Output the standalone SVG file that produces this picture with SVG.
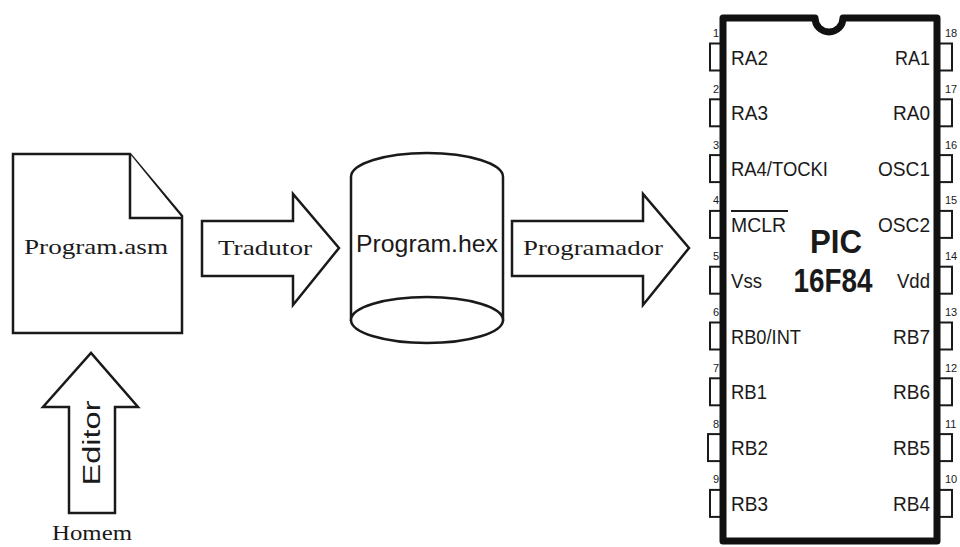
<svg xmlns="http://www.w3.org/2000/svg" width="960" height="547" viewBox="0 0 960 547">
<style>
.ln{fill:#fff;stroke:#1a1a1a;stroke-width:2.5;stroke-linejoin:miter}
.ser{font-family:"Liberation Serif","DejaVu Serif",serif;fill:#1a1a1a}
.sans{font-family:"Liberation Sans",Arial,sans-serif;fill:#1a1a1a}
.lbl{font-family:"Liberation Sans",Arial,sans-serif;font-size:21px;fill:#1a1a1a}
.num{font-family:"Liberation Sans",Arial,sans-serif;font-size:11px;fill:#1a1a1a}
.pin{fill:#fff;stroke:#1a1a1a;stroke-width:2}
</style>
<rect width="960" height="547" fill="#fff"/>
<g id="program-asm">
<path class="ln" d="M13,154 L130,154 L182,216 L182,333 L13,333 Z"/>
<path class="ln" fill="none" d="M130,154 L130,218 L182,218"/>
<text class="ser" x="24" y="254" font-size="22" textLength="144" lengthAdjust="spacingAndGlyphs">Program.asm</text>
</g>
<g id="program-hex">
<path class="ln" d="M351,177 A76,24 0 0 1 503,177 L503,320 L351,320 Z"/>
<ellipse class="ln" cx="427" cy="320" rx="76" ry="23"/>
<text class="sans" x="356" y="252" font-size="24" textLength="142" lengthAdjust="spacingAndGlyphs">Program.hex</text>
</g>
<g id="homem">
<text class="ser" x="52" y="540" font-size="20" textLength="80" lengthAdjust="spacingAndGlyphs">Homem</text>
</g>
<g id="connectors">
<g id="editor">
<path class="ln" d="M69,513 L69,407 L43,407 L91,353 L138,407 L115,407 L115,513 Z"/>
<text class="sans" transform="translate(100,443) rotate(-90)" text-anchor="middle" x="0" y="0" font-size="23" textLength="85" lengthAdjust="spacingAndGlyphs">Editor</text>
</g>
<g id="tradutor">
<path class="ln" d="M202,221 L293,221 L293,194 L339,248 L293,305 L293,276 L202,276 Z"/>
<text class="ser" x="218" y="255" font-size="22" textLength="94" lengthAdjust="spacingAndGlyphs">Tradutor</text>
</g>
<g id="programador">
<path class="ln" d="M512,221 L643,221 L643,194 L689,248 L643,305 L643,276 L512,276 Z"/>
<text class="ser" x="523" y="255" font-size="22" textLength="140" lengthAdjust="spacingAndGlyphs">Programador</text>
</g>
</g>
<g id="pic16f84">
<g id="pins-left">
<rect class="pin" x="710" y="43.5" width="13" height="27"/>
<rect class="pin" x="710" y="99.3" width="13" height="27"/>
<rect class="pin" x="710" y="155.1" width="13" height="27"/>
<rect class="pin" x="710" y="210.9" width="13" height="27"/>
<rect class="pin" x="710" y="266.7" width="13" height="27"/>
<rect class="pin" x="710" y="322.5" width="13" height="27"/>
<rect class="pin" x="710" y="378.3" width="13" height="27"/>
<rect class="pin" x="708" y="434.1" width="15" height="27"/>
<rect class="pin" x="710" y="489.9" width="13" height="27"/>
</g>
<g id="pins-right">
<rect class="pin" x="937" y="43.5" width="15" height="27"/>
<rect class="pin" x="937" y="99.3" width="15" height="27"/>
<rect class="pin" x="937" y="155.1" width="15" height="27"/>
<rect class="pin" x="937" y="210.9" width="15" height="27"/>
<rect class="pin" x="937" y="266.7" width="15" height="27"/>
<rect class="pin" x="937" y="322.5" width="15" height="27"/>
<rect class="pin" x="937" y="378.3" width="15" height="27"/>
<rect class="pin" x="937" y="434.1" width="15" height="27"/>
<rect class="pin" x="937" y="489.9" width="15" height="27"/>
</g>
<path d="M723,18 L815,18 A14,14 0 0 0 843,18 L937,18 L937,541 L723,541 Z" fill="#fff" stroke="#111" stroke-width="7" stroke-linejoin="round"/>
<g id="pin-numbers" class="num">
<text x="719" y="37" text-anchor="end">1</text>
<text x="719" y="92.8" text-anchor="end">2</text>
<text x="719" y="148.6" text-anchor="end">3</text>
<text x="719" y="204.4" text-anchor="end">4</text>
<text x="719" y="260.2" text-anchor="end">5</text>
<text x="719" y="316" text-anchor="end">6</text>
<text x="719" y="371.8" text-anchor="end">7</text>
<text x="719" y="427.6" text-anchor="end">8</text>
<text x="719" y="483.4" text-anchor="end">9</text>
<text x="945" y="37">18</text>
<text x="945" y="92.8">17</text>
<text x="945" y="148.6">16</text>
<text x="945" y="204.4">15</text>
<text x="945" y="260.2">14</text>
<text x="945" y="316">13</text>
<text x="945" y="371.8">12</text>
<text x="945" y="427.6">11</text>
<text x="945" y="483.4">10</text>
</g>
<g id="labels-left" class="lbl">
<text x="731" y="64.5" textLength="37" lengthAdjust="spacingAndGlyphs">RA2</text>
<text x="731" y="120.3" textLength="37" lengthAdjust="spacingAndGlyphs">RA3</text>
<text x="731" y="176.1" textLength="97" lengthAdjust="spacingAndGlyphs">RA4/TOCKI</text>
<text x="731" y="232" textLength="55" lengthAdjust="spacingAndGlyphs">MCLR</text>
<text x="731" y="287.7" textLength="31" lengthAdjust="spacingAndGlyphs">Vss</text>
<text x="731" y="343.5" textLength="70" lengthAdjust="spacingAndGlyphs">RB0/INT</text>
<text x="731" y="399.3" textLength="36" lengthAdjust="spacingAndGlyphs">RB1</text>
<text x="731" y="455.1" textLength="37" lengthAdjust="spacingAndGlyphs">RB2</text>
<text x="731" y="510.9" textLength="37" lengthAdjust="spacingAndGlyphs">RB3</text>
</g>
<line x1="731" y1="211" x2="788" y2="211" stroke="#1a1a1a" stroke-width="2"/>
<g id="labels-right" class="lbl" text-anchor="end">
<text x="930" y="64.5" textLength="35" lengthAdjust="spacingAndGlyphs">RA1</text>
<text x="930" y="120.3" textLength="37" lengthAdjust="spacingAndGlyphs">RA0</text>
<text x="930" y="176.1" textLength="52" lengthAdjust="spacingAndGlyphs">OSC1</text>
<text x="930" y="232" textLength="52" lengthAdjust="spacingAndGlyphs">OSC2</text>
<text x="930" y="287.7" textLength="33" lengthAdjust="spacingAndGlyphs">Vdd</text>
<text x="930" y="343.5" textLength="37" lengthAdjust="spacingAndGlyphs">RB7</text>
<text x="930" y="399.3" textLength="37" lengthAdjust="spacingAndGlyphs">RB6</text>
<text x="930" y="455.1" textLength="37" lengthAdjust="spacingAndGlyphs">RB5</text>
<text x="930" y="510.9" textLength="37" lengthAdjust="spacingAndGlyphs">RB4</text>
</g>
<text class="sans" x="836" y="253" font-size="33" font-weight="bold" text-anchor="middle" textLength="52" lengthAdjust="spacingAndGlyphs">PIC</text>
<text class="sans" x="833" y="292" font-size="33" font-weight="bold" text-anchor="middle" textLength="79" lengthAdjust="spacingAndGlyphs">16F84</text>
</g>
</svg>
